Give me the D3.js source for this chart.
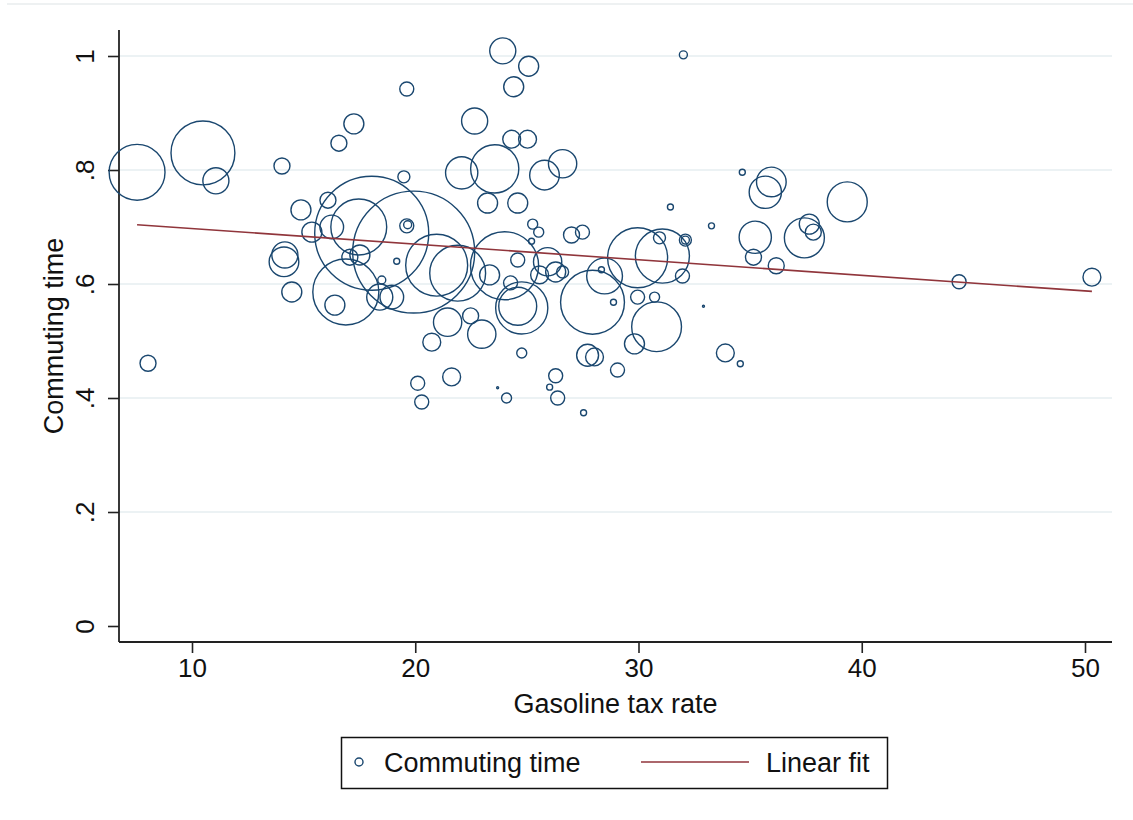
<!DOCTYPE html>
<html>
<head>
<meta charset="utf-8">
<script src="https://cdn.jsdelivr.net/npm/d3@7"></script>
<style>
  body { margin: 0; background: #fff; }
  text { font-family: "Liberation Sans", Arial, sans-serif; fill: #111; }
</style>
</head>
<body>
<div id="chart"></div>
<script>
// bubble data: tax rate, commuting time, weight
var taxRate = [7.54, 10.49, 11.07, 8.03, 14.03, 16.58, 17.25, 19.62, 23.92, 25.08,
  24.41, 32.01, 22.66, 24.32, 25.03, 22.08, 23.56, 25.79, 26.60, 23.24,
  24.59, 19.49, 34.65, 35.95, 35.68, 39.35, 31.43, 33.27, 14.88, 16.09,
  35.23, 35.15, 36.17, 37.43, 37.65, 37.83, 44.36, 50.31, 33.89, 34.56,
  18.05, 19.93, 17.47, 20.96, 16.89, 21.90, 24.00, 24.77, 24.59, 14.16,
  14.12, 14.47, 16.40, 15.37, 18.41, 18.95, 19.62, 19.66, 19.17, 21.45,
  22.98, 22.48, 20.74, 24.77, 23.33, 24.59, 24.27, 25.26, 25.53, 25.21,
  17.52, 17.07, 18.50, 16.26, 21.63, 20.11, 20.29, 23.69, 24.09, 26.29,
  26.02, 26.38, 27.54, 27.72, 28.03, 29.06, 29.82, 30.81, 32.91, 27.00,
  27.49, 29.96, 31.07, 30.94, 32.10, 32.10, 31.97, 28.48, 27.94, 28.34,
  28.88, 29.96, 30.72, 25.93, 26.29, 25.57, 26.60];

var commute = [.796, .830, .781, .461, .807, .847, .881, .942, 1.009, .982,
  .946, 1.002, .886, .854, .854, .795, .802, .791, .811, .742,
  .742, .788, .796, .779, .761, .744, .735, .702, .730, .747,
  .682, .647, .632, .681, .705, .691, .604, .612, .479, .460,
  .689, .656, .700, .633, .586, .619, .632, .558, .561, .651,
  .639, .586, .563, .691, .577, .577, .702, .704, .640, .533,
  .512, .544, .498, .479, .616, .642, .602, .705, .691, .675,
  .651, .647, .607, .700, .437, .426, .393, .418, .400, .439,
  .419, .400, .374, .475, .472, .449, .495, .525, .561, .686,
  .691, .646, .649, .681, .677, .677, .614, .614, .568, .625,
  .568, .577, .577, .639, .621, .616, .621];

var weight = [78, 102, 17, 6.4, 6.4, 6.4, 10, 4.9, 17, 10,
  10, 1.6, 17, 8, 8, 26, 58, 22, 20, 10,
  10, 3.6, 0.9, 22, 26, 40, 0.9, 0.9, 10, 6.4,
  26, 6.4, 6.4, 40, 10, 6.4, 4.9, 8, 8, 0.9,
  325, 372, 78, 96, 109, 78, 116, 68, 36, 17,
  22, 10, 10, 10, 17, 14, 4.9, 1.6, 0.9, 20,
  20, 6.4, 8, 2.5, 10, 4.9, 4.9, 2.5, 2.5, 0.9,
  10, 6.4, 1.6, 14, 8, 4.9, 4.9, 0.1, 2.5, 4.9,
  0.9, 4.9, 0.9, 12, 8, 4.9, 10, 62, 0.1, 6.4,
  4.9, 90, 73, 3.6, 3.6, 1.6, 4.9, 32, 102, 0.9,
  0.9, 4.9, 2.5, 20, 10, 8, 3.6];

// linear fit end points
var fitTax = [7.54, 50.31];
var fitCommute = [.704, .587];

var xTicks = [10, 20, 30, 40, 50];
var yTicks = [0, .2, .4, .6, .8, 1];
var legendLabels = ['Commuting time', 'Linear fit'];

var navy = '#1a476f',
  maroon = '#90353b';

var svgWidth = 1133,
  svgHeight = 820;

var plot = { l: 119, r: 1112, t: 30, b: 642 };

var svg = d3.select('#chart')
  .append('svg')
  .attr('width', svgWidth)
  .attr('height', svgHeight);

var data = taxRate.map((d, i) => ({ x: d, y: commute[i], w: weight[i] }));

var xScale = d3.scaleLinear().domain([10, 50]).range([192, 1085]);
var yScale = d3.scaleLinear().domain([0, 1]).range([626, 56]);
var rScale = d3.scaleSqrt().domain([0, 400]).range([0, Math.sqrt(4000)]);

// faint edge of the cut-off title area
svg.append('rect')
  .attr('x', 7).attr('y', 3)
  .attr('width', svgWidth - 7).attr('height', 2)
  .attr('fill', '#eef1f2');

// gridlines (none at the axis minimum)
svg.append('g').selectAll('line')
  .data(yTicks.filter(d => d > 0))
  .enter()
  .append('line')
  .attr('x1', plot.l).attr('x2', plot.r)
  .attr('y1', d => yScale(d)).attr('y2', d => yScale(d))
  .attr('stroke', '#e6eef1')
  .attr('stroke-width', 1.6);

var fmtY = d => d === 0 ? '0' : d === 1 ? '1' : d3.format('.1f')(d).replace(/^0/, '');

// y axis
var yAxis = svg.append('g')
  .attr('transform', `translate(${plot.l},0)`)
  .call(d3.axisLeft(yScale).tickValues(yTicks).tickSize(11).tickSizeOuter(0).tickFormat(fmtY));
yAxis.select('.domain').remove();
yAxis.append('line')
  .attr('x1', 0).attr('x2', 0)
  .attr('y1', plot.t).attr('y2', plot.b)
  .attr('stroke', '#222').attr('stroke-width', 1.8);
yAxis.selectAll('.tick line').attr('stroke', '#222').attr('stroke-width', 1.6);
yAxis.selectAll('.tick text')
  .attr('x', 0).attr('dy', 0)
  .attr('transform', 'translate(-25,0) rotate(-90)')
  .attr('text-anchor', 'middle')
  .style('font-size', '26px')
  .style('font-family', '"Liberation Sans", Arial, sans-serif')
  .attr('fill', '#111');

// x axis
var xAxis = svg.append('g')
  .attr('transform', `translate(0,${plot.b})`)
  .call(d3.axisBottom(xScale).tickValues(xTicks).tickSize(11).tickSizeOuter(0));
xAxis.select('.domain').remove();
xAxis.append('line')
  .attr('x1', plot.l).attr('x2', plot.r)
  .attr('y1', 0).attr('y2', 0)
  .attr('stroke', '#222').attr('stroke-width', 1.8);
xAxis.selectAll('.tick line').attr('stroke', '#222').attr('stroke-width', 1.6);
xAxis.selectAll('.tick text')
  .attr('y', 35).attr('dy', 0)
  .style('font-size', '26px')
  .style('font-family', '"Liberation Sans", Arial, sans-serif')
  .attr('fill', '#111');

// axis titles
svg.append('text')
  .attr('x', (plot.l + plot.r) / 2)
  .attr('y', 713)
  .attr('text-anchor', 'middle')
  .style('font-size', '27px')
  .text('Gasoline tax rate');

svg.append('text')
  .attr('transform', `translate(63,${(plot.t + plot.b) / 2}) rotate(-90)`)
  .attr('text-anchor', 'middle')
  .style('font-size', '27px')
  .text('Commuting time');

// bubbles
svg.append('g').selectAll('circle')
  .data(data)
  .enter()
  .append('circle')
  .attr('cx', d => xScale(d.x))
  .attr('cy', d => yScale(d.y))
  .attr('r', d => Math.max(rScale(d.w), 1))
  .attr('fill', 'none')
  .attr('stroke', navy)
  .attr('stroke-width', 1.4);

// linear fit
svg.append('path')
  .datum(fitTax.map((d, i) => [d, fitCommute[i]]))
  .attr('d', d3.line().x(d => xScale(d[0])).y(d => yScale(d[1])))
  .attr('fill', 'none')
  .attr('stroke', maroon)
  .attr('stroke-width', 1.6);

// legend
var legend = svg.append('g');
legend.append('rect')
  .attr('x', 341.5).attr('y', 737.5)
  .attr('width', 546).attr('height', 51)
  .attr('fill', '#fff')
  .attr('stroke', '#111')
  .attr('stroke-width', 1.5);
legend.append('circle')
  .attr('cx', 359).attr('cy', 762)
  .attr('r', 4)
  .attr('fill', 'none')
  .attr('stroke', navy)
  .attr('stroke-width', 1.4);
legend.append('text')
  .attr('x', 384).attr('y', 772)
  .style('font-size', '27px')
  .text(legendLabels[0]);
legend.append('line')
  .attr('x1', 641).attr('x2', 749)
  .attr('y1', 762).attr('y2', 762)
  .attr('stroke', maroon)
  .attr('stroke-width', 1.6);
legend.append('text')
  .attr('x', 766).attr('y', 772)
  .style('font-size', '27px')
  .text(legendLabels[1]);
</script>
</body>
</html>
